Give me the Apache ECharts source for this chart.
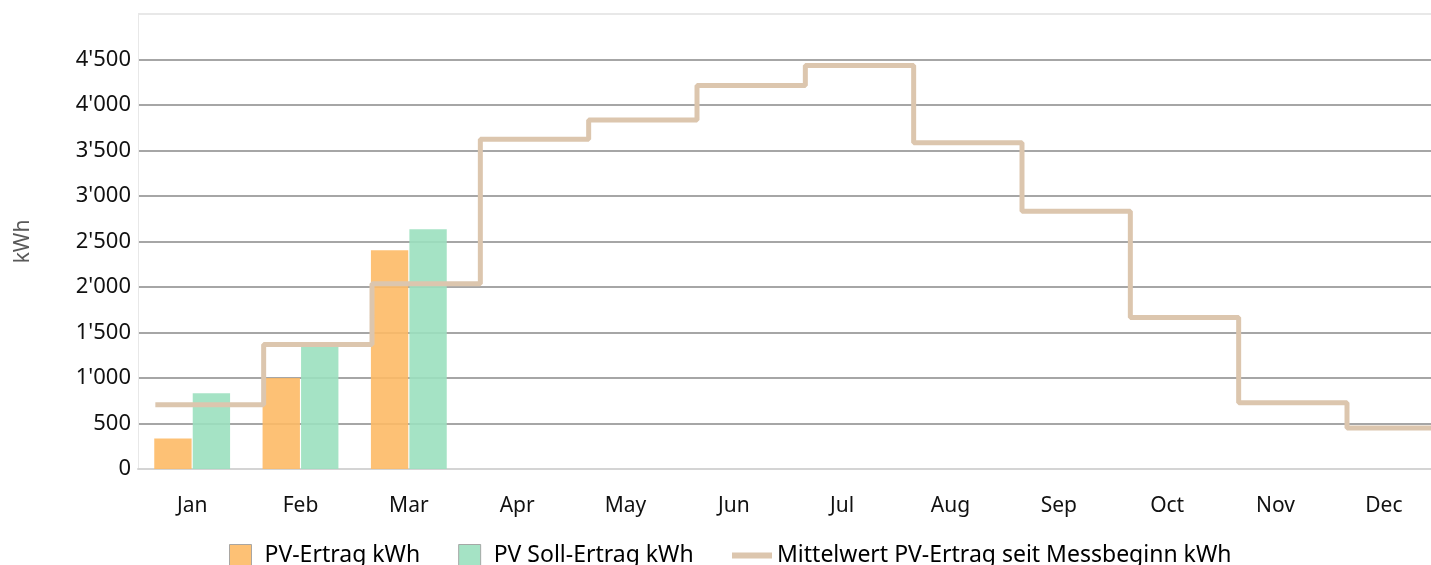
<!DOCTYPE html>
<html>
<head>
<meta charset="utf-8">
<script src="https://cdn.jsdelivr.net/npm/echarts@6/dist/echarts.min.js"></script>
<style>
  html, body { margin: 0; padding: 0; background: #fff; }
  #myEcharts { width: 1431px; height: 565px; }
</style>
</head>
<body>
<div id="myEcharts"></div>
<script>
// monthly data
const months = ['Jan', 'Feb', 'Mar', 'Apr', 'May', 'Jun', 'Jul', 'Aug', 'Sep', 'Oct', 'Nov', 'Dec'];
const pvErtrag = [335, 1000, 2405];
const pvSoll = [832, 1345, 2635];
const mittelwert = [705, 1368, 2035, 3625, 3836, 4213, 4433, 3585, 2832, 1664, 728, 450];
const yTicks = [0, 500, 1000, 1500, 2000, 2500, 3000, 3500, 4000, 4500, 5000];

const font = 'Noto Sans';

// step line: one point per month, plus a closing point so Dec gets its own segment
const stepData = mittelwert.map((v, i) => [i, v]);
stepData.push([months.length, mittelwert[mittelwert.length - 1]]);

function fmt(v) {
  if (v === yTicks[yTicks.length - 1]) return '';
  return String(v).replace(/\B(?=(\d{3})+(?!\d))/g, "'");
}

const gridColors = yTicks.map((t, i) => i === yTicks.length - 1 ? '#e8e8e8' : '#a6a6a6');

let chart = echarts.init(document.getElementById('myEcharts'));
chart.setOption({
  animation: false,
  grid: { left: 138, width: 1300, top: 14, bottom: 96, containLabel: false, outerBoundsMode: 'none' },
  legend: [{
    left: 224,
    top: 539,
    itemWidth: 22,
    itemHeight: 22,
    itemGap: 38,
    icon: 'rect',
    textStyle: { fontFamily: font, fontSize: 23, color: '#000', padding: [0, 0, 0, 8] },
    data: ['PV-Ertrag kWh', 'PV Soll-Ertrag kWh'],
    itemStyle: { borderColor: '#a0a0a0', borderWidth: 1 }
  }, {
    left: 727,
    top: 539,
    itemWidth: 40,
    itemHeight: 6,
    icon: 'rect',
    textStyle: { fontFamily: font, fontSize: 23, color: '#000', padding: [0, 0, 0, 0] },
    data: ['Mittelwert PV-Ertrag seit Messbeginn kWh']
  }],
  xAxis: [{
    type: 'category',
    data: months,
    axisTick: { show: false },
    axisLine: { lineStyle: { color: '#d4d4d4', width: 2 } },
    axisLabel: { fontFamily: font, fontSize: 21, color: '#111', margin: 27 }
  }, {
    // hidden helper axis so the steps sit at the start of each bar group
    type: 'value',
    min: -0.16,
    max: months.length - 0.16,
    show: false
  }],
  yAxis: {
    type: 'value',
    min: 0,
    max: 5000,
    interval: 500,
    name: 'kWh',
    nameLocation: 'middle',
    nameGap: 104,
    nameTextStyle: { fontFamily: font, fontSize: 21, color: '#595959' },
    axisLine: { show: true, onZero: false, lineStyle: { color: '#e8e8e8', width: 1 } },
    axisTick: { show: false },
    axisLabel: { fontFamily: font, fontSize: 22, color: '#111', margin: 7, formatter: fmt },
    splitLine: { lineStyle: { color: gridColors, width: 2 } }
  },
  series: [{
    name: 'PV-Ertrag kWh',
    type: 'bar',
    data: pvErtrag,
    barGap: '3%',
    barCategoryGap: '30%',
    itemStyle: { color: '#fdba66', opacity: 0.9 }
  }, {
    name: 'PV Soll-Ertrag kWh',
    type: 'bar',
    data: pvSoll,
    barGap: '3%',
    barCategoryGap: '30%',
    itemStyle: { color: '#9be0bf', opacity: 0.9 }
  }, {
    name: 'Mittelwert PV-Ertrag seit Messbeginn kWh',
    type: 'line',
    xAxisIndex: 1,
    step: 'end',
    showSymbol: false,
    symbol: 'none',
    clip: true,
    data: stepData,
    lineStyle: { color: '#dcc6ae', width: 5 },
    itemStyle: { color: '#dcc6ae' }
  }]
});
window.onresize = function () {
  chart.resize();
};
</script>
</body>
</html>
